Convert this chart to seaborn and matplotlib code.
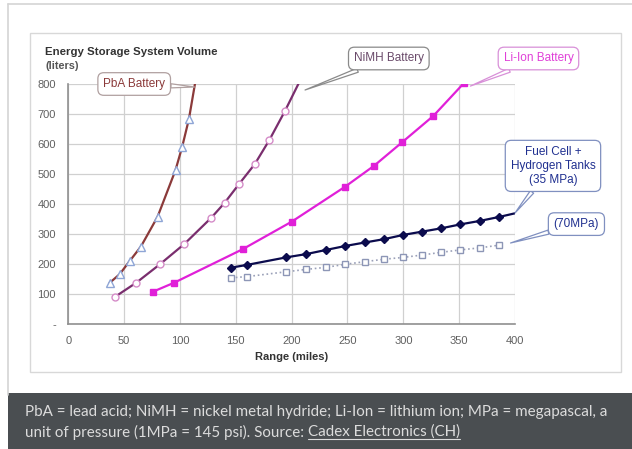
"""
Energy storage system volume vs. driving range (recreation)
"""

import matplotlib
matplotlib.use("Agg")
import matplotlib.pyplot as plt
from matplotlib.patches import Rectangle
import pandas as pd
import seaborn as sns

# Data
pba_range = [37, 46, 55, 65, 80, 96, 102, 108, 114]
pba_volume = [137, 166, 210, 258, 358, 513, 591, 683, 813]

nimh_range = [42, 61, 82, 104, 128, 140, 153, 167, 180, 194, 208]
nimh_volume = [91, 138, 199, 267, 354, 404, 467, 533, 613, 710, 815]

liion_range = [76, 95, 156, 200, 248, 274, 299, 327, 354]
liion_volume = [108, 138, 249, 341, 458, 528, 606, 694, 802]

fc35_range = [146, 160, 195, 213, 231, 248, 266, 283, 300, 317, 334, 351, 369, 386, 400]
fc35_volume = [188, 197, 222, 233, 247, 260, 272, 283, 297, 308, 319, 332, 344, 357, 369]

fc70_range = [146, 160, 195, 213, 231, 248, 266, 283, 300, 317, 334, 351, 369, 386]
fc70_volume = [154, 158, 174, 182, 189, 199, 208, 216, 222, 230, 239, 247, 254, 263]

x_ticks = [0, 50, 100, 150, 200, 250, 300, 350, 400]
y_ticks = [0, 100, 200, 300, 400, 500, 600, 700, 800]
y_tick_labels = ["-", "100", "200", "300", "400", "500", "600", "700", "800"]

caption_line1 = "PbA = lead acid; NiMH = nickel metal hydride; Li-Ion = lithium ion; MPa = megapascal, a"
caption_line2 = "unit of pressure (1MPa = 145 psi). Source: "
caption_link = "Cadex Electronics (CH)"

sns.set_style("white")
plt.rcParams['font.family'] = ['Liberation Sans', 'DejaVu Sans']

W, H = 632, 449
fig = plt.figure(figsize=(W / 100, H / 100), dpi=100)
fig.patch.set_facecolor("white")


def fx(px):
    return px / W


def fy(py):
    return 1 - py / H


# outer page frame and inner chart box
fig.add_artist(plt.Line2D([fx(8), fx(632)], [fy(4), fy(4)], color="#d4d4d4", lw=1.2))
fig.add_artist(plt.Line2D([fx(8), fx(8)], [fy(4), fy(395)], color="#d4d4d4", lw=1.2))
fig.add_artist(Rectangle((fx(30), fy(372)), fx(591), 339 / H, fill=False,
                         ec="#d8d8d8", lw=1.0))
# caption band
fig.add_artist(Rectangle((fx(8), 0), 1, 56 / H, color="#4a4e51", lw=0))

ax = fig.add_axes([fx(68.3), fy(324), fx(515 - 68.3), (324 - 84) / H])

series = [
    (pba_range, pba_volume, "#8b3a3a", "-", "^", "white", "#8fa6d6", 6, True),
    (nimh_range, nimh_volume, "#7a2e6e", "-", "o", "white", "#d58cc8", 5, True),
    (liion_range, liion_volume, "#e020d8", "-", "s", "#e020d8", "#e020d8", 4.5, False),
    (fc35_range, fc35_volume, "#0b0b4d", "-", "D", "#0b0b4d", "#0b0b4d", 4, True),
    (fc70_range, fc70_volume, "#9aa0b8", ":", "s", "white", "#8d96b6", 4.5, False),
]

for rng, vol, color, ls, mk, mfc, mec, ms, ext in series:
    df = pd.DataFrame({"range": rng, "volume": vol})
    sns.lineplot(data=df, x="range", y="volume", ax=ax, color=color,
                 linestyle=ls, lw=1.6 if ls == "-" else 1.2, sort=False)
    pts = df.iloc[:-1] if ext else df
    ax.plot(pts["range"], pts["volume"], linestyle="none", marker=mk,
            markerfacecolor=mfc, markeredgecolor=mec, markersize=ms,
            markeredgewidth=1.0, zorder=3)

ax.set_xlim(0, 400)
ax.set_ylim(0, 800)
ax.set_xticks(x_ticks)
ax.set_yticks(y_ticks)
ax.set_yticklabels(y_tick_labels)
ax.grid(True, color="#d0d0d0", lw=0.9)
for s in ["top", "right"]:
    ax.spines[s].set_visible(False)
for s in ["left", "bottom"]:
    ax.spines[s].set_color("#909090")
    ax.spines[s].set_linewidth(1.2)
ax.tick_params(axis="both", direction="inout", length=6, width=1, color="#909090",
               labelsize=8, labelcolor="#606060", pad=6)
ax.set_xlabel("Range (miles)", fontsize=8, fontweight="bold", color="#333333", labelpad=4)
ax.set_ylabel("")

fig.text(fx(45), fy(52), "Energy Storage System Volume", fontsize=8.2, fontweight="bold",
         color="#333333", va="center", ha="left")
fig.text(fx(45), fy(66), "(liters)", fontsize=7.8, fontweight="bold",
         color="#555555", va="center", ha="left")

# callouts
callouts = [
    ("PbA Battery", (59, 800), (113, 790), "#8b3a3a", "#b0a0a0"),
    ("NiMH Battery", (287, 885), (212, 780), "#6a4a6a", "#8a8a8a"),
    ("Li-Ion Battery", (421, 885), (360, 793), "#e040d8", "#d890d8"),
    ("Fuel Cell +\nHydrogen Tanks\n(35 MPa)", (434, 527), (400, 370), "#203090", "#8090c0"),
    ("(70MPa)", (455, 333), (396, 270), "#203090", "#8090c0"),
]
for text, xytext, xy, tc, ec in callouts:
    ax.annotate(text, xy=xy, xytext=xytext, fontsize=8.5, color=tc, ha="center",
                va="center", annotation_clip=False, linespacing=1.25,
                bbox=dict(boxstyle="round,pad=0.45,rounding_size=0.5", fc="white",
                          ec=ec, lw=0.9),
                arrowprops=dict(arrowstyle="wedge,tail_width=0.35", fc="white",
                                ec=ec, lw=0.9, shrinkA=0, shrinkB=0))

cap_font = dict(fontsize=10.9, color="#dcdcdc", va="center", ha="left",
                family=["Lato", "DejaVu Sans"])
fig.text(fx(25), fy(412), caption_line1, **cap_font)
line2 = fig.text(fx(25), fy(432), caption_line2, **cap_font)
fig.canvas.draw()
renderer = fig.canvas.get_renderer()
b2 = line2.get_window_extent(renderer)
# underlined source link placed right after the second line
link = fig.text(b2.x1 / W, fy(432), caption_link, **cap_font)
bb = link.get_window_extent(renderer)
fig.add_artist(plt.Line2D([bb.x0 / W, bb.x1 / W], [(bb.y0 + 0.5) / H, (bb.y0 + 0.5) / H],
                          color="#dcdcdc", lw=0.8))

fig.savefig("out.png", dpi=100)
